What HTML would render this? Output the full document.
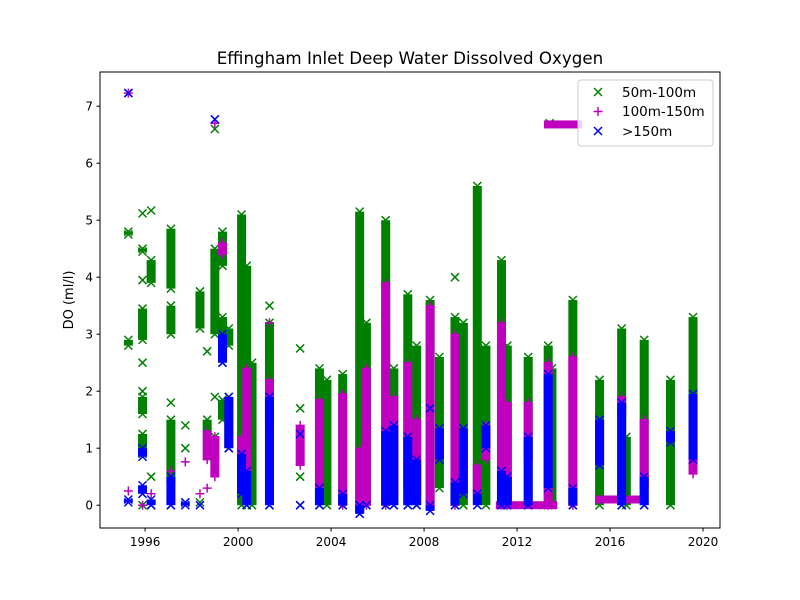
<!DOCTYPE html>
<html><head><meta charset="utf-8"><style>
body{margin:0;background:#fff;}
svg{display:block;font-family:"DejaVu Sans","Liberation Sans",sans-serif;}
</style></head><body>
<svg id="chart" width="800" height="600" xmlns="http://www.w3.org/2000/svg">
<rect width="800" height="600" fill="#fff"/>
<text x="410" y="64" text-anchor="middle" font-size="16.7">Effingham Inlet Deep Water Dissolved Oxygen</text>
<text transform="translate(73,300) rotate(-90)" text-anchor="middle" font-size="13">DO (ml/l)</text>
<g id="marks"></g>
<g id="axes"></g>
<g>
<rect x="578" y="80" width="135" height="66" rx="3" fill="#fff" fill-opacity="0.8" stroke="#ccc"/>
<g>
<path d="M594,88l8,8M602,88l-8,8" stroke="green" stroke-width="1.5"/>
<text x="622" y="97" font-size="13.5">50m-100m</text></g>
<g>
<path d="M598,107v9M593.5,111.5h9" stroke="#bf00bf" stroke-width="1.5"/>
<text x="622" y="116" font-size="13.5">100m-150m</text></g>
<g>
<path d="M594,127l8,8M602,127l-8,8" stroke="blue" stroke-width="1.5"/>
<text x="622" y="136" font-size="13.5">&gt;150m</text></g>
</g>
</svg>
<script>
const xTicks=[1996,2000,2004,2008,2012,2016,2020];
const yTicks=[0,1,2,3,4,5,6,7];
// [year, low, high]
const green50=[[1995.28,7.23,7.23],[1995.28,4.75,4.8],[1995.28,2.8,2.9],
[1995.89,5.12,5.12],[1995.89,4.45,4.5],[1995.89,3.95,3.95],[1995.89,2.9,3.45],[1995.89,2.5,2.5],[1995.89,2.0,2.0],[1995.89,1.6,1.9],[1995.89,0.9,1.25],[1995.89,0,0],
[1996.26,5.17,5.17],[1996.26,3.9,4.3],[1996.26,0.5,0.5],[1996.26,0,0],
[1997.11,3.8,4.85],[1997.11,3.0,3.5],[1997.11,1.8,1.8],[1997.11,0.4,1.5],[1997.11,0,0],
[1997.73,1.4,1.4],[1997.73,1.0,1.0],[1997.73,0.05,0.05],
[1998.36,3.1,3.75],[1998.36,0.05,0.05],[1998.67,2.7,2.7],[1998.67,1.3,1.5],
[1999.0,6.6,6.6],[1999.0,3.0,4.5],[1999.0,1.9,1.9],[1999.0,0.8,1.2],
[1999.33,4.2,4.8],[1999.33,2.5,3.3],[1999.33,1.5,1.85],
[1999.6,2.8,3.1],[1999.6,1.0,1.9],
[2000.15,0,5.1],[2000.37,0,4.2],[2000.6,0,2.5],
[2001.35,3.5,3.5],[2001.35,0,3.2],
[2002.67,2.75,2.75],[2002.67,1.7,1.7],[2002.67,0.5,0.5],[2002.67,0,0],
[2003.5,0,2.4],[2003.82,0,2.2],[2004.5,0,2.3],[2005.23,-0.15,5.15],[2005.52,0,3.2],
[2006.35,0,5.0],[2006.7,0,2.4],[2007.3,0,3.7],[2007.68,0,2.8],[2008.26,0,3.6],[2008.66,0.3,2.6],
[2009.33,4.0,4.0],[2009.33,0,3.3],[2009.69,0,3.2],[2010.29,0.2,5.6],[2010.66,0,2.8],
[2011.33,0,4.3],[2011.58,0,2.8],[2012.48,0,2.6],[2013.34,0,2.8],[2013.5,0,2.4],[2013.4,6.7,6.7],
[2014.4,0,3.6],[2015.55,0,2.2],[2016.5,0,3.1],[2016.7,0,1.2],[2017.47,0,2.9],[2018.6,0,2.2],[2019.57,0.8,3.3]];
const magenta100=[[1995.28,7.23,7.23],[1995.28,0.25,0.25],[1995.89,0,0],[1996.26,0.2,0.2],
[1997.11,0.6,0.6],[1997.73,0.76,0.76],[1998.36,0.2,0.2],[1998.67,0.8,1.3],[1998.67,0.3,0.3],
[1999.0,6.7,6.7],[1999.0,0.5,1.2],[1999.33,4.4,4.6],[2000.15,0.3,1.2],[2000.37,0.5,2.4],
[2001.35,1.4,2.2],[2001.35,3.2,3.2],[2002.67,0.7,1.4],
[2003.5,0.3,1.85],[2004.5,0,1.95],[2005.23,0,1.0],[2005.52,0,2.4],[2006.35,0,3.9],[2006.7,0.2,1.9],
[2007.3,0.3,2.5],[2007.68,0.2,1.5],[2008.26,0,3.5],[2009.33,0,3.0],[2010.29,0.2,0.7],[2010.66,0.8,1.4],
[2011.33,0,3.2],[2011.58,0,1.8],[2012.48,0.8,1.8],[2013.34,0,2.5],[2014.4,0,2.6],
[2016.5,1.6,1.9],[2017.47,0.3,1.5],[2019.57,0.55,0.95]];
// horizontal runs [startYear, endYear, value]
const magentaRuns=[[2011.26,2013.56,0.0],[2013.33,2014.62,6.68],[2015.53,2017.4,0.1]];
const blue150=[[1995.28,7.23,7.23],[1995.28,0.05,0.1],[1995.89,0.85,1.0],[1995.89,0.2,0.35],[1996.26,0,0.1],
[1997.11,0,0.5],[1997.73,0,0.05],[1998.36,0,0],[1999.0,6.77,6.77],[1999.33,2.5,3.0],[1999.6,1.0,1.9],
[2000.15,0.2,0.9],[2000.37,0,0.6],[2001.35,0,1.9],[2002.67,1.25,1.25],[2002.67,0,0],
[2003.5,0,0.3],[2004.5,0,0.2],[2005.23,-0.15,0],[2005.52,0,0],[2006.35,0,1.3],[2006.7,0,1.4],[2007.3,0,1.2],
[2007.68,0,0.8],[2008.26,-0.1,0],[2008.26,1.7,1.7],[2008.66,0.8,1.35],[2009.33,0,0.4],[2009.69,0.2,1.35],
[2010.29,0,0.2],[2010.66,1.0,1.4],[2011.33,0,0.6],[2011.58,0,0.5],[2012.48,0,1.2],[2013.34,0.3,2.3],
[2014.4,0,0.3],[2015.55,0.7,1.5],[2016.5,0,1.8],[2017.47,0,0.5],[2018.6,1.1,1.3],[2019.57,0.8,1.95]];

const X0=100,X1=720,Y0=72,Y1=528;
const xMin=1994.06,xMax=2020.73,yMin=-0.40,yMax=7.6;
const xs=v=>X0+(v-xMin)/(xMax-xMin)*(X1-X0);
const ys=v=>Y1-(v-yMin)/(yMax-yMin)*(Y1-Y0);
const NS='http://www.w3.org/2000/svg';
const marks=document.getElementById('marks'),axes=document.getElementById('axes');
function mk(tag,attrs,parent){const e=document.createElementNS(NS,tag);for(const k in attrs)e.setAttribute(k,attrs[k]);parent.appendChild(e);return e;}
function marker(x,y,kind,color,g){
  const d=kind==='x'?`M${x-4},${y-4}l8,8M${x+4},${y-4}l-8,8`:`M${x},${y-4.5}v9M${x-4.5},${y}h9`;
  const p=mk('path',{d:d,stroke:color,'stroke-width':1.5,fill:'none'},g);
  
  
}
function series(data,kind,color,name){
  const g=mk('g',{},marks);
  
  
  data.forEach(d=>{
    const x=xs(d[0]),yl=ys(d[1]),yh=ys(d[2]);
    if(yl-yh>2){
      const r=mk('rect',{x:x-4.5,y:yh,width:9,height:yl-yh,fill:color},g);
      
      
    }
    marker(x,yh,kind,color,g);
    if(yl-yh>2)marker(x,yl,kind,color,g);
  });
  return g;
}
series(green50,'x','green','series-50-100m');
const mg=series(magenta100,'+','#bf00bf','series-100-150m');
magentaRuns.forEach(r=>{
  const x1=xs(r[0]),x2=xs(r[1]),y=ys(r[2]);
  const e=mk('rect',{x:x1-4,y:y-4,width:x2-x1+8,height:8,fill:'#bf00bf'},mg);
  
  
});
series(blue150,'x','blue','series-150m-plus');
// axes
const fr=mk('rect',{x:X0,y:Y0,width:X1-X0,height:Y1-Y0,fill:'none',stroke:'#000','stroke-width':1},axes);


xTicks.forEach(t=>{
  const x=xs(t);
  mk('line',{x1:x,x2:x,y1:Y1,y2:Y1+3.5,stroke:'#000'},axes);
  const tx=mk('text',{x:x,y:Y1+18,'text-anchor':'middle','font-size':12},axes);
  tx.textContent=t;
  
  
});
yTicks.forEach(t=>{
  const y=ys(t);
  mk('line',{x1:X0-3.5,x2:X0,y1:y,y2:y,stroke:'#000'},axes);
  const tx=mk('text',{x:X0-7,y:y+4.5,'text-anchor':'end','font-size':12},axes);
  tx.textContent=t;
  
  
});
</script>
</body></html>
